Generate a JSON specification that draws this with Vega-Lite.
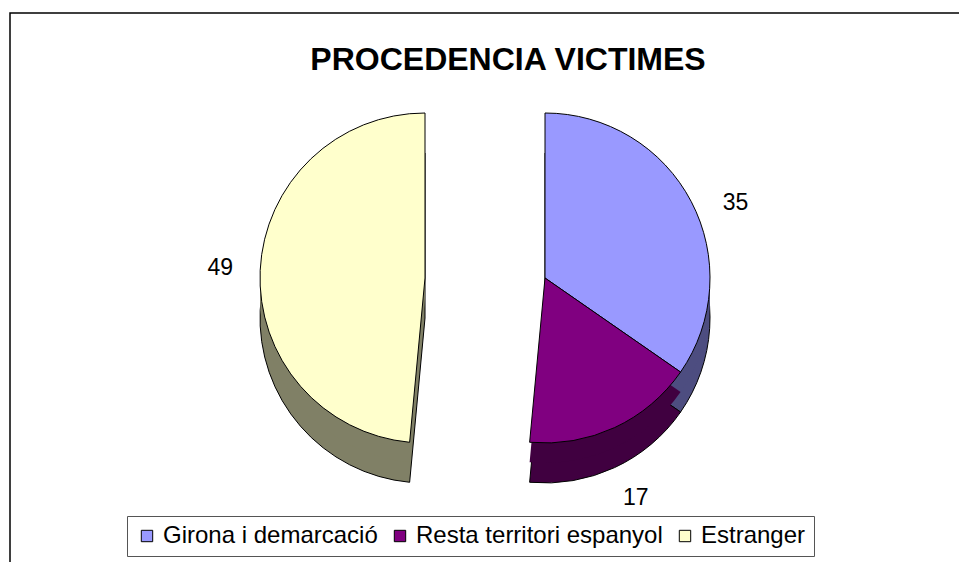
{
  "$schema": "https://vega.github.io/schema/vega-lite/v6.json",
  "width": 960,
  "height": 560,
  "autosize": {"type": "none"},
  "padding": {"left": 10, "top": 13, "right": 0, "bottom": 0},
  "background": "white",
  "title": {
    "text": "PROCEDENCIA VICTIMES",
    "font": "Liberation Sans",
    "fontSize": 32,
    "fontWeight": "bold",
    "color": "black",
    "anchor": "middle",
    "frame": "group",
    "offset": -64,
    "dx": 18
  },
  "data": {
    "values": [
      {"cat": "Girona i demarcació", "value": 35, "order": 1},
      {"cat": "Resta territori espanyol", "value": 17, "order": 2},
      {"cat": "Estranger", "value": 49, "order": 3}
    ]
  },
  "transform": [
    {"stack": "value", "groupby": [], "sort": [{"field": "order", "order": "ascending"}], "as": ["v0", "v1"]}
  ],
  "layer": [
    {
      "transform": [{"filter": "datum.cat === 'Estranger'"}],
      "mark": {"type": "arc", "radius": 165, "stroke": "black", "strokeWidth": 1, "xOffset": -65, "yOffset": 25, "fill": "#808066"},
      "encoding": {
        "theta": {"field": "v0", "type": "quantitative", "scale": {"domain": [0, 101]}},
        "theta2": {"field": "v1"}
      }
    },
    {
      "transform": [{"filter": "datum.cat !== 'Estranger'"}],
      "mark": {"type": "arc", "radius": 165, "stroke": "black", "strokeWidth": 1, "xOffset": 55, "yOffset": 25},
      "encoding": {
        "theta": {"field": "v0", "type": "quantitative", "scale": {"domain": [0, 101]}},
        "theta2": {"field": "v1"},
        "fill": {"condition": {"test": "datum.cat === 'Girona i demarcació'", "value": "#4D4D80"}, "value": "#400040"}
      }
    },
    {
      "transform": [{"filter": "datum.cat === 'Estranger'"}],
      "mark": {"type": "arc", "radius": 165, "xOffset": -65, "yOffset": 5, "fill": "#808066"},
      "encoding": {
        "theta": {"field": "v0", "type": "quantitative", "scale": {"domain": [0, 101]}},
        "theta2": {"field": "v1"}
      }
    },
    {
      "transform": [{"filter": "datum.cat !== 'Estranger'"}],
      "mark": {"type": "arc", "radius": 165, "xOffset": 55, "yOffset": 5},
      "encoding": {
        "theta": {"field": "v0", "type": "quantitative", "scale": {"domain": [0, 101]}},
        "theta2": {"field": "v1"},
        "fill": {"condition": {"test": "datum.cat === 'Girona i demarcació'", "value": "#4D4D80"}, "value": "#400040"}
      }
    },
    {
      "transform": [{"filter": "datum.cat === 'Estranger'"}],
      "mark": {"type": "arc", "radius": 165, "stroke": "black", "strokeWidth": 1, "xOffset": -65, "yOffset": -15},
      "encoding": {
        "theta": {"field": "v0", "type": "quantitative", "scale": {"domain": [0, 101]}},
        "theta2": {"field": "v1"},
        "color": {
          "field": "cat",
          "type": "nominal",
          "scale": {
            "domain": ["Girona i demarcació", "Resta territori espanyol", "Estranger"],
            "range": ["#9999FF", "#800080", "#FFFFCC"]
          },
          "legend": {"orient": "none", "legendX": 117, "legendY": 503, "direction": "horizontal", "title": null}
        }
      }
    },
    {
      "transform": [{"filter": "datum.cat !== 'Estranger'"}],
      "mark": {"type": "arc", "radius": 165, "stroke": "black", "strokeWidth": 1, "xOffset": 55, "yOffset": -15},
      "encoding": {
        "theta": {"field": "v0", "type": "quantitative", "scale": {"domain": [0, 101]}},
        "theta2": {"field": "v1"},
        "color": {"field": "cat", "type": "nominal"}
      }
    },
    {
      "mark": {"type": "text", "radius": 205, "font": "Liberation Sans", "fontSize": 23, "fill": "black", "xOffset": -65, "yOffset": -15},
      "encoding": {
        "theta": {"field": "value", "type": "quantitative", "stack": true, "scale": {"domain": [0, 101]}},
        "order": {"field": "order", "type": "quantitative"},
        "text": {"condition": {"test": "datum.cat === 'Estranger'", "field": "value"}, "value": ""}
      }
    },
    {
      "mark": {"type": "text", "radius": 215, "font": "Liberation Sans", "fontSize": 23, "fill": "black", "xOffset": 55, "yOffset": 10},
      "encoding": {
        "theta": {"field": "value", "type": "quantitative", "stack": true, "scale": {"domain": [0, 101]}},
        "order": {"field": "order", "type": "quantitative"},
        "text": {"condition": {"test": "datum.cat !== 'Estranger'", "field": "value"}, "value": ""}
      }
    }
  ],
  "config": {
    "style": {"view": {"stroke": "black", "strokeWidth": 1.5, "fill": "white"}},
    "legend": {
      "labelFont": "Liberation Sans",
      "labelFontSize": 24,
      "labelColor": "black",
      "labelLimit": 500,
      "symbolType": "square",
      "symbolSize": 130,
      "symbolStrokeColor": "black",
      "symbolStrokeWidth": 1,
      "symbolOpacity": 1,
      "strokeColor": "#555555",
      "fillColor": "white",
      "padding": 8,
      "columnPadding": 10
    }
  }
}
